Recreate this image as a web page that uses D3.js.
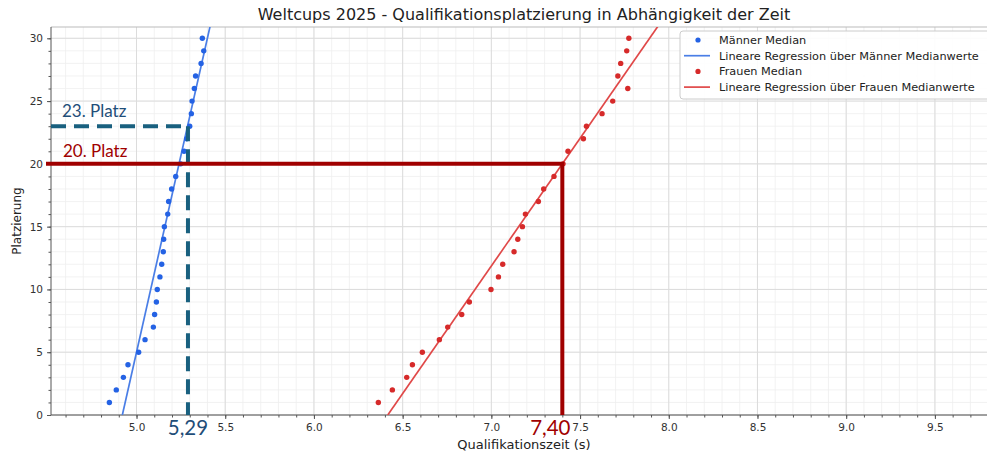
<!DOCTYPE html>
<html><head><meta charset="utf-8">
<script src="https://cdn.jsdelivr.net/npm/d3@7"></script>
<style>body{margin:0;background:#fff;}svg{display:block;}</style>
</head><body>
<script>
// ---- data ----
const ranks = d3.range(1, 31);
const menTimes = [4.847,4.886,4.926,4.952,5.012,5.048,5.095,5.102,5.112,5.117,5.132,5.142,5.151,5.153,5.157,5.176,5.181,5.198,5.221,5.249,5.268,5.283,5.300,5.309,5.313,5.326,5.333,5.364,5.379,5.371];
const womenTimes = [6.363,6.442,6.523,6.555,6.611,6.707,6.754,6.833,6.876,6.998,7.040,7.064,7.128,7.149,7.175,7.192,7.265,7.295,7.353,7.404,7.432,7.519,7.536,7.624,7.684,7.769,7.713,7.729,7.763,7.775];
const menFit = [62.6, -308.0];     // rank = a * time + b
const womenFit = [20.33, -130.44];
const xTicks = [5.0,5.5,6.0,6.5,7.0,7.5,8.0,8.5,9.0,9.5];
const yTicks = [0,5,10,15,20,25,30];
const legendLabels = ["Männer Median","Lineare Regression über Männer Medianwerte","Frauen Median","Lineare Regression über Frauen Medianwerte"];
const markRanks = [23, 20];
const markTimes = [5.29, 7.40];
const markPlaceLabels = ["23. Platz", "20. Platz"];
const markTimeLabels = ["5,29", "7,40"];
const title = "Weltcups 2025 - Qualifikationsplatzierung in Abhängigkeit der Zeit";

// ---- layout ----
const W = 987, H = 454;
const L = 51, R = 997, T = 27, B = 415;
const x = d3.scaleLinear().domain([4.518, 9.85]).range([L, R]);
const y = d3.scaleLinear().domain([0, 30.9]).range([B, T]);
const cMenPt = "#2462e4", cMenLine = "#4a7ee6", cWomPt = "#d62a2a", cWomLine = "#e04848";
const cBlueAnn = "#19607f", cBlueTxt = "#1f4e79", cRedAnn = "#a00000";

const svg = d3.select("body").append("svg").attr("width", W).attr("height", H)
  .style("font-family", "'DejaVu Sans', sans-serif");
svg.append("defs").append("clipPath").attr("id","clip")
  .append("rect").attr("x", L).attr("y", T).attr("width", R-L).attr("height", B-T);

// grid
const g = svg.append("g");
const xMinor = d3.range(45, 99).map(v => v/10).filter(v => v >= x.domain()[0] && v <= x.domain()[1]);
const yMinor = d3.range(0, 31);
g.selectAll(".xm").data(xMinor).join("line")
  .attr("x1", d => x(d)).attr("x2", d => x(d)).attr("y1", T).attr("y2", B)
  .attr("stroke", "#efefef").attr("stroke-width", 0.8);
g.selectAll(".ym").data(yMinor).join("line")
  .attr("x1", L).attr("x2", R).attr("y1", d => y(d)).attr("y2", d => y(d))
  .attr("stroke", "#efefef").attr("stroke-width", 0.8);
g.selectAll(".xM").data(xTicks).join("line")
  .attr("x1", d => x(d)).attr("x2", d => x(d)).attr("y1", T).attr("y2", B)
  .attr("stroke", "#dcdcdc").attr("stroke-width", 1);
g.selectAll(".yM").data(yTicks).join("line")
  .attr("x1", L).attr("x2", R).attr("y1", d => y(d)).attr("y2", d => y(d))
  .attr("stroke", "#dcdcdc").attr("stroke-width", 1);
svg.append("line").attr("x1", L).attr("x2", R).attr("y1", T).attr("y2", T).attr("stroke", "#bbb");

// axes
const xAxis = svg.append("g").attr("transform", `translate(0,${B})`)
  .call(d3.axisBottom(x).tickValues(xTicks).tickFormat(d3.format(".1f")).tickSize(4).tickPadding(5));
const xAxisMinor = svg.append("g").attr("transform", `translate(0,${B})`)
  .call(d3.axisBottom(x).tickValues(xMinor).tickFormat("").tickSize(2.5));
xAxisMinor.select(".domain").remove();
const yAxis = svg.append("g").attr("transform", `translate(${L},0)`)
  .call(d3.axisLeft(y).tickValues(yTicks).tickSize(4).tickPadding(4));
const yAxisMinor = svg.append("g").attr("transform", `translate(${L},0)`)
  .call(d3.axisLeft(y).tickValues(yMinor).tickFormat("").tickSize(2.5));
yAxisMinor.select(".domain").remove();
svg.selectAll(".tick text").attr("font-size", 10.5).attr("fill", "#333").attr("font-family", "'DejaVu Sans', sans-serif");
svg.selectAll(".domain, .tick line").attr("stroke", "#555");
xAxis.select(".domain").attr("d", `M${L},0H${R}`);
yAxis.select(".domain").attr("d", `M0,${B}V${T}`);

// regression lines
const plot = svg.append("g").attr("clip-path", "url(#clip)");
function fitLine(fit, color) {
  const pts = [0, 32].map(r => [(r - fit[1]) / fit[0], r]);
  plot.append("path").datum(pts)
    .attr("d", d3.line().x(d => x(d[0])).y(d => y(d[1])))
    .attr("stroke", color).attr("stroke-width", 1.7).attr("fill", "none");
}
fitLine(menFit, cMenLine);
fitLine(womenFit, cWomLine);

// points
plot.selectAll(".mp").data(ranks).join("circle")
  .attr("cx", (d,i) => x(menTimes[i])).attr("cy", d => y(d)).attr("r", 2.7).attr("fill", cMenPt);
plot.selectAll(".wp").data(ranks).join("circle")
  .attr("cx", (d,i) => x(womenTimes[i])).attr("cy", d => y(d)).attr("r", 2.7).attr("fill", cWomPt);

// annotations
const ann = svg.append("g");
ann.append("path")
  .attr("d", `M${L},${y(markRanks[0])}H${x(markTimes[0])}`)
  .attr("stroke", cBlueAnn).attr("stroke-width", 4).attr("stroke-dasharray", "15,8").attr("fill","none");
ann.append("path")
  .attr("d", `M${x(markTimes[0])},${y(markRanks[0])}V${B}`)
  .attr("stroke", cBlueAnn).attr("stroke-width", 4).attr("stroke-dasharray", "15,8").attr("fill","none");
ann.append("path")
  .attr("d", `M${L-5},${y(markRanks[1])}H${x(markTimes[1])}V${B}`)
  .attr("stroke", cRedAnn).attr("stroke-width", 4).attr("fill","none");
const annFont = "Lato, 'Open Sans', sans-serif";
ann.append("text").attr("x", 62).attr("y", y(markRanks[0]) - 9).text(markPlaceLabels[0])
  .attr("font-family", annFont).attr("font-size", 17).attr("fill", cBlueTxt);
ann.append("text").attr("x", 63).attr("y", y(markRanks[1]) - 7).text(markPlaceLabels[1])
  .attr("font-family", annFont).attr("font-size", 17).attr("fill", cRedAnn);
ann.append("text").attr("x", x(markTimes[0])).attr("y", 435).attr("text-anchor","middle").text(markTimeLabels[0])
  .attr("font-family", annFont).attr("font-size", 20.5).attr("fill", cBlueTxt);
ann.append("text").attr("x", x(markTimes[1]) - 12).attr("y", 435).attr("text-anchor","middle").text(markTimeLabels[1])
  .attr("font-family", annFont).attr("font-size", 20.5).attr("fill", cRedAnn);

// titles
svg.append("text").attr("x", (L+R)/2).attr("y", 20).attr("text-anchor","middle")
  .attr("font-size", 16).attr("fill", "#222").text(title);
svg.append("text").attr("x", (L+R)/2).attr("y", 449).attr("text-anchor","middle")
  .attr("font-size", 13).attr("fill", "#222").text("Qualifikationszeit (s)");
svg.append("text").attr("transform", `translate(21,${(T+B)/2}) rotate(-90)`).attr("text-anchor","middle")
  .attr("font-size", 12).attr("fill", "#222").text("Platzierung");

// legend
const lg = svg.append("g").attr("transform", "translate(680,31)");
lg.append("rect").attr("x", 0).attr("y", 0).attr("width", 330).attr("height", 68).attr("rx", 3)
  .attr("fill", "#fff").attr("fill-opacity", 0.9).attr("stroke", "#ccc");
const legendKinds = ["pt","line","pt","line"];
const legendColors = [cMenPt, cMenLine, cWomPt, cWomLine];
legendLabels.forEach((lab, i) => {
  const yy = 9 + i * 15.7;
  if (legendKinds[i] === "pt") lg.append("circle").attr("cx", 18).attr("cy", yy).attr("r", 2.6).attr("fill", legendColors[i]);
  else lg.append("line").attr("x1", 4).attr("x2", 30).attr("y1", yy).attr("y2", yy).attr("stroke", legendColors[i]).attr("stroke-width", 1.7);
  lg.append("text").attr("x", 39).attr("y", yy + 4).attr("font-size", 11.3).attr("fill", "#222").text(lab);
});
</script>
</body></html>
